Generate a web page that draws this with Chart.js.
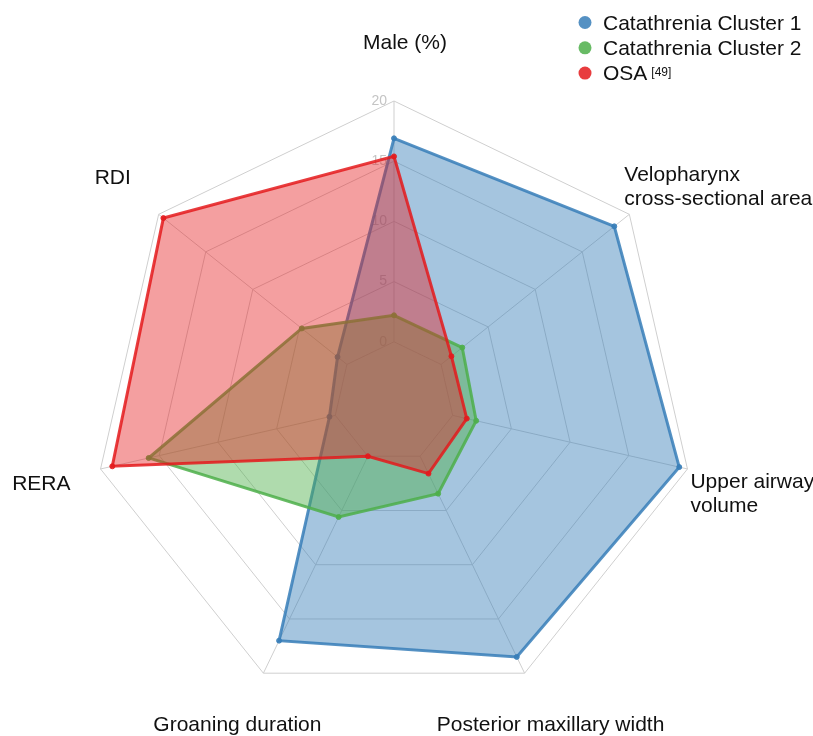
<!DOCTYPE html>
<html>
<head>
<meta charset="utf-8">
<title>Catathrenia radar</title>
<script src="https://cdn.jsdelivr.net/npm/chart.js@4.4.1/dist/chart.umd.min.js"></script>
<style>
  html, body { margin: 0; padding: 0; background: #fff; overflow: hidden; }
  #wrap { position: relative; width: 813px; height: 736px; }
</style>
</head>
<body>
<div id="wrap"><canvas id="radar"></canvas></div>
<script>
// Axes (clockwise from top)
const categories = [
  'Male (%)',
  ['Velopharynx', 'cross-sectional area'],
  ['Upper airway', 'volume'],
  'Posterior maxillary width',
  'Groaning duration',
  'RERA',
  'RDI'
];

// Series values
const cluster1 = [16.9, 18.4, 19.3, 18.5, 17.0, 0.5, 1.0];
const cluster2 = [2.2, 2.25, 2.0, 3.45, 5.6, 15.9, 4.8];
const osa = [15.4, 1.1, 1.2, 1.6, 0.0, 19.0, 19.5];

const seriesNames = ['Catathrenia Cluster 1', 'Catathrenia Cluster 2', 'OSA'];
const seriesNotes = ['', '', '[49]'];
const tickValues = [0, 5, 10, 15, 20];

const FONT = '"Liberation Sans", Arial, Helvetica, sans-serif';
const GRID = '#cfcfcf';

// angle lines only from the 0 ring outwards, plus the tick numbers left of the axis
const gridExtras = {
  id: 'gridExtras',
  beforeDatasetsDraw(chart) {
    const r = chart.scales.r;
    const ctx = chart.ctx;
    ctx.save();
    ctx.strokeStyle = GRID;
    ctx.lineWidth = 1;
    for (let i = 0; i < categories.length; i++) {
      const a = r.getPointPositionForValue(i, tickValues[0]);
      const b = r.getPointPositionForValue(i, r.max);
      ctx.beginPath();
      ctx.moveTo(a.x, a.y);
      ctx.lineTo(b.x, b.y);
      ctx.stroke();
    }
    ctx.font = '14px ' + FONT;
    ctx.fillStyle = '#c4c4c4';
    ctx.textAlign = 'right';
    ctx.textBaseline = 'middle';
    tickValues.forEach(v => {
      const p = r.getPointPositionForValue(0, v);
      ctx.fillText(String(v), p.x - 7, p.y);
    });
    ctx.restore();
  }
};

// category labels around the outside + legend top right
const labelPlace = [
  { align: 'center', dx: 11, dy: -52 },
  { align: 'left', dx: -5, dy: -33 },
  { align: 'left', dx: 3, dy: 19 },
  { align: 'center', dx: 26, dy: 58 },
  { align: 'center', dx: -26, dy: 58 },
  { align: 'right', dx: -30, dy: 21 },
  { align: 'left', dx: -64, dy: -30 }
];

const outerText = {
  id: 'outerText',
  afterDraw(chart) {
    const r = chart.scales.r;
    const ctx = chart.ctx;
    ctx.save();
    ctx.font = '21px ' + FONT;
    ctx.fillStyle = '#111';
    ctx.textBaseline = 'alphabetic';
    categories.forEach((lab, i) => {
      const v = r.getPointPositionForValue(i, r.max);
      const pl = labelPlace[i];
      const lines = Array.isArray(lab) ? lab : [lab];
      ctx.textAlign = pl.align;
      lines.forEach((ln, k) => {
        ctx.fillText(ln, v.x + pl.dx, v.y + pl.dy + k * 24);
      });
    });

    // legend
    chart.data.datasets.forEach((ds, i) => {
      const y = 22.5 + i * 25.3;
      ctx.beginPath();
      ctx.fillStyle = ds.borderColor;
      ctx.arc(585, y, 6.5, 0, Math.PI * 2);
      ctx.fill();
      ctx.fillStyle = '#111';
      ctx.textAlign = 'left';
      ctx.font = '21px ' + FONT;
      ctx.fillText(ds.label, 603, y + 7);
      if (seriesNotes[i]) {
        const w = ctx.measureText(ds.label).width;
        ctx.font = '12px ' + FONT;
        ctx.fillText(seriesNotes[i], 603 + w + 4, y + 3);
      }
    });
    ctx.restore();
  }
};

const blue = '55,126,184';
const green = '77,175,74';
const red = '228,26,28';

function series(label, data, rgb, order, fillAlpha) {
  return {
    label: label,
    data: data,
    order: order,
    fill: 'start',
    borderColor: 'rgba(' + rgb + ',0.85)',
    backgroundColor: 'rgba(' + rgb + ',' + fillAlpha + ')',
    borderWidth: 3,
    pointRadius: 2.5,
    pointBorderWidth: 1,
    pointBackgroundColor: 'rgba(' + rgb + ',0.85)',
    pointBorderColor: 'rgba(' + rgb + ',0.85)'
  };
}

new Chart(document.getElementById('radar'), {
  type: 'radar',
  data: {
    labels: categories,
    datasets: [
      series(seriesNames[0], cluster1, blue, 3, 0.45),
      series(seriesNames[1], cluster2, green, 2, 0.45),
      series(seriesNames[2], osa, red, 1, 0.42)
    ]
  },
  options: {
    responsive: true,
    maintainAspectRatio: false,
    animation: false,
    layout: { padding: { left: 93, right: 118, top: 70, bottom: 2 } },
    elements: { line: { tension: 0 } },
    plugins: {
      legend: { display: false },
      tooltip: { enabled: false }
    },
    scales: {
      r: {
        min: -5,
        max: 20,
        ticks: { stepSize: 5, display: false },
        grid: { color: GRID, lineWidth: 1 },
        angleLines: { display: false },
        pointLabels: { display: false }
      }
    }
  },
  plugins: [gridExtras, outerText]
});
</script>
</body>
</html>
